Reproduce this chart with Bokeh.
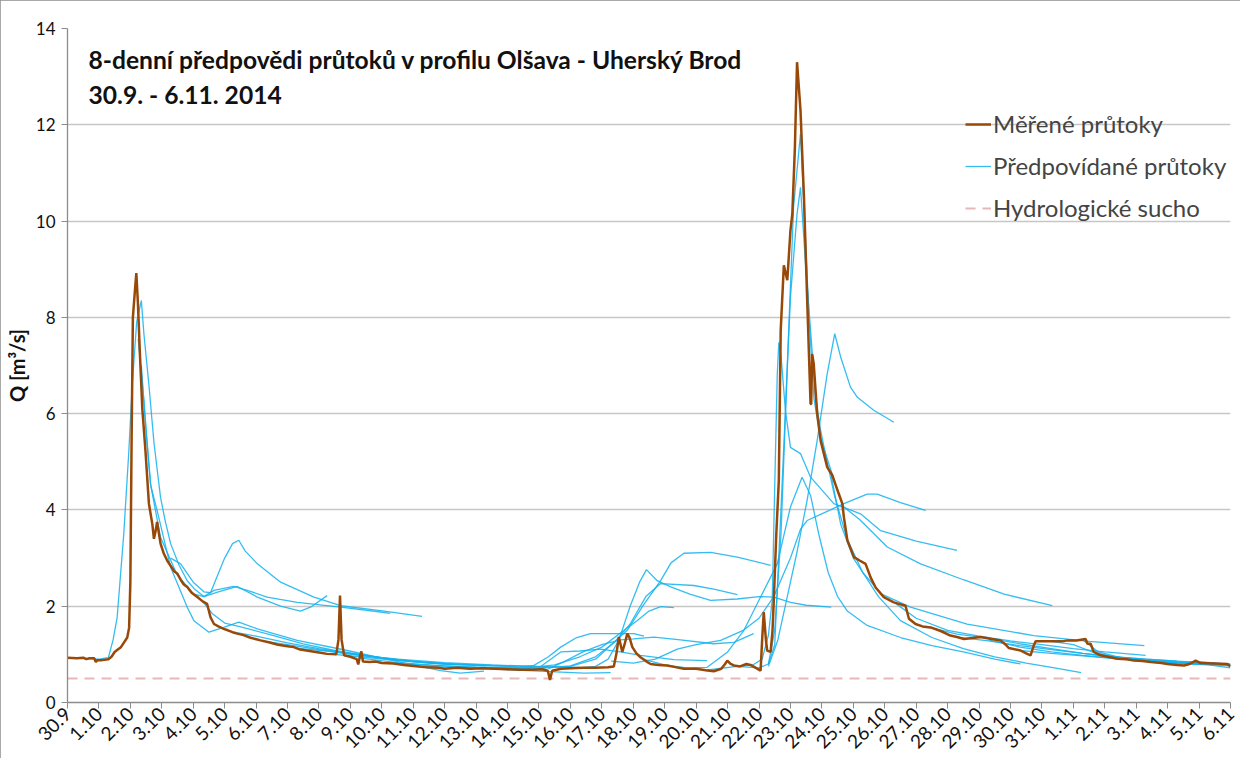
from bokeh.plotting import figure
from bokeh.models import Label, Legend, LegendItem, FixedTicker
from bokeh.embed import file_html
from bokeh.resources import INLINE

# ---------------- data ----------------
tick_labels = ["30.9", "1.10", "2.10", "3.10", "4.10", "5.10", "6.10", "7.10", "8.10", "9.10",
               "10.10", "11.10", "12.10", "13.10", "14.10", "15.10", "16.10", "17.10", "18.10",
               "19.10", "20.10", "21.10", "22.10", "23.10", "24.10", "25.10", "26.10", "27.10",
               "28.10", "29.10", "30.10", "31.10", "1.11", "2.11", "3.11", "4.11", "5.11", "6.11"]

# measured discharge (days since 30.9 00:00, m3/s)
meas_day = [0.00, 0.30, 0.50, 0.60, 0.70, 0.85, 0.90, 0.95, 1.10, 1.30, 1.40, 1.50, 1.60, 1.70, 1.80,
            1.90, 1.96, 2.00, 2.04, 2.08, 2.15, 2.19, 2.24, 2.30, 2.38, 2.48, 2.59, 2.70, 2.75, 2.80,
            2.85, 2.96, 3.06, 3.17, 3.30, 3.40, 3.49, 3.60, 3.70, 3.81, 3.95, 4.13, 4.30, 4.44, 4.55,
            4.66, 4.80, 4.97, 5.10, 5.25, 5.40, 5.60, 5.80, 6.14, 6.40, 6.70, 7.00, 7.20, 7.40, 7.60,
            7.80, 8.00, 8.26, 8.55, 8.62, 8.67, 8.72, 8.80, 9.00, 9.20, 9.25, 9.30, 9.35, 9.40, 9.60,
            9.80, 10.00, 10.37, 10.70, 11.00, 11.44, 11.80, 12.00, 12.40, 12.80, 13.20, 13.60, 14.00,
            14.40, 14.80, 15.10, 15.28, 15.35, 15.42, 15.70, 16.00, 16.40, 16.80, 17.20, 17.38, 17.46,
            17.54, 17.65, 17.72, 17.81, 17.88, 17.97, 18.10, 18.23, 18.40, 18.55, 18.80, 19.08, 19.30,
            19.61, 20.00, 20.30, 20.56, 20.80, 20.92, 20.99, 21.10, 21.20, 21.40, 21.60, 21.73, 21.90,
            22.05, 22.10, 22.15, 22.22, 22.26, 22.37, 22.43, 22.47, 22.55, 22.63, 22.69, 22.79, 22.90,
            23.00, 23.06, 23.14, 23.21, 23.32, 23.43, 23.53, 23.64, 23.66, 23.69, 23.74, 23.85, 23.96,
            24.17, 24.33, 24.54, 24.65, 24.70, 24.81, 25.02, 25.20, 25.39, 25.55, 25.71, 25.97, 26.29,
            26.66, 26.77, 26.98, 27.20, 27.46, 27.80, 28.09, 28.30, 28.52, 28.80, 29.05, 29.40, 29.68,
            29.85, 29.95, 30.32, 30.50, 30.64, 30.75, 30.80, 31.20, 31.65, 31.81, 32.10, 32.39, 32.45,
            32.55, 32.65, 32.87, 33.10, 33.40, 33.70, 33.93, 34.20, 34.46, 34.80, 34.99, 35.30, 35.52,
            35.70, 35.89, 36.05, 36.50, 36.90, 37.00]
meas_q = [0.93, 0.92, 0.93, 0.90, 0.92, 0.92, 0.84, 0.88, 0.88, 0.90, 0.95, 1.05, 1.10, 1.15, 1.25,
          1.35, 1.55, 2.50, 5.50, 8.00, 8.60, 8.92, 8.30, 7.30, 6.10, 5.23, 4.13, 3.70, 3.40, 3.55,
          3.75, 3.30, 3.10, 2.95, 2.82, 2.72, 2.68, 2.55, 2.45, 2.40, 2.28, 2.19, 2.10, 2.05, 1.77,
          1.63, 1.58, 1.53, 1.50, 1.46, 1.43, 1.40, 1.35, 1.29, 1.25, 1.20, 1.17, 1.15, 1.10, 1.08,
          1.06, 1.04, 1.01, 1.00, 1.30, 2.22, 1.30, 0.98, 0.95, 0.90, 0.79, 0.95, 1.06, 0.85, 0.84,
          0.85, 0.82, 0.81, 0.78, 0.76, 0.73, 0.72, 0.70, 0.72, 0.70, 0.71, 0.70, 0.69,
          0.68, 0.68, 0.69, 0.66, 0.47, 0.66, 0.70, 0.71, 0.72, 0.72, 0.73, 0.75, 1.00,
          1.36, 1.05, 1.20, 1.43, 1.35, 1.15, 1.02, 0.94, 0.86, 0.80, 0.78, 0.77, 0.74,
          0.70, 0.70, 0.67, 0.65, 0.70, 0.80, 0.87, 0.80, 0.77, 0.75, 0.80, 0.78, 0.72,
          0.66, 1.30, 1.88, 1.30, 1.08, 1.05, 1.50, 2.12, 3.50, 4.61, 7.73, 9.08, 8.77,
          9.80, 10.15, 11.50, 13.30, 12.30, 10.50, 8.42, 6.20, 6.20, 7.24, 7.04, 6.00, 5.44,
          4.89, 4.72, 4.33, 4.13, 3.85, 3.37, 3.02, 2.95, 2.88, 2.60, 2.39, 2.19, 2.08,
          2.01, 1.74, 1.63, 1.58, 1.56, 1.48, 1.39, 1.36, 1.32, 1.34, 1.36, 1.32, 1.29,
          1.20, 1.13, 1.08, 1.02, 0.98, 1.20, 1.27, 1.27, 1.27, 1.29, 1.29, 1.32, 1.22,
          1.22, 1.05, 0.98, 0.95, 0.91, 0.90, 0.87, 0.86, 0.84, 0.82, 0.80, 0.78, 0.77,
          0.80, 0.87, 0.82, 0.81, 0.80, 0.75]

# forecasts (8-day forecasts issued on successive days)
fc_days = [
    [0.3, 1.0, 1.3, 1.45, 1.58, 1.79, 1.95, 2.06, 2.2, 2.35, 2.43, 2.59, 2.75, 2.96, 3.1, 3.28, 3.55, 3.81, 4.05, 4.34, 4.8, 5.4, 6.04, 6.78, 7.41, 7.73, 8.26],
    [2.25, 2.43, 2.64, 2.96, 3.49, 4.02, 4.34, 4.66, 5.29, 5.72, 6.35, 7.31, 8.69, 9.96, 10.27],
    [3.28, 3.6, 4.0, 4.34, 4.55, 4.75, 5.0, 5.25, 5.45, 5.65, 6.04, 6.78, 7.84, 8.69, 9.96, 11.28],
    [2.35, 2.5, 2.65, 2.85, 3.28, 3.81, 4.02, 4.5, 4.97, 5.45, 6.04, 7.31, 8.9, 10.0, 11.0, 11.87, 12.5, 13.25],
    [4.3, 4.6, 5.0, 5.45, 6.5, 7.5, 8.5, 9.5, 10.5, 11.5, 12.3],
    [5.3, 6.0, 7.0, 8.0, 9.0, 10.0, 11.0, 12.0, 13.3],
    [6.3, 7.0, 8.0, 9.0, 10.0, 11.0, 12.5, 14.3],
    [7.3, 8.3, 9.3, 10.5, 12.0, 13.5, 15.3],
    [8.3, 9.3, 10.5, 12.0, 14.0, 16.3],
    [9.3, 10.5, 12.0, 13.5, 15.0, 16.43, 17.28],
    [10.3, 11.5, 13.0, 14.2, 14.84, 15.3, 15.69, 16.2, 16.64, 18.02, 18.34],
    [11.3, 13.0, 14.5, 15.5, 16.3, 17.0, 17.6, 18.12, 18.5, 18.87, 19.29],
    [12.3, 14.0, 15.0, 15.69, 16.3, 16.96, 17.6, 18.23, 19.29, 20.35],
    [13.3, 15.0, 16.0, 16.8, 17.4, 17.9, 18.4, 18.87, 19.93, 20.6, 21.31],
    [14.3, 15.0, 16.0, 16.8, 17.3, 17.81, 18.3, 18.87, 19.2, 19.61, 20.46, 21.31, 22.37],
    [15.3, 15.8, 16.4, 17.0, 17.6, 18.02, 18.66, 19.5, 20.56, 21.2, 21.83],
    [16.3, 16.8, 17.2, 17.54, 17.9, 18.2, 18.42, 18.76, 19.19, 19.8, 20.46, 21.3, 22.0, 22.47, 23.0, 23.5, 24.3],
    [17.3, 18.0, 18.7, 19.4, 20.0, 20.78, 21.5, 22.0, 22.47, 23.0, 23.32, 23.53, 24.1, 24.7, 25.44, 25.76, 26.5, 27.3],
    [18.3, 19.0, 19.7, 20.35, 21.0, 21.52, 22.05, 22.58, 23.0, 23.37, 23.64, 23.9, 24.2, 24.5, 24.81, 25.44, 26.5, 27.5, 28.5, 29.5, 30.32],
    [20.3, 21.3, 21.8, 22.1, 22.3, 22.42, 22.5, 22.58, 22.63, 22.7, 22.84, 23.0, 23.32, 23.64, 24.38, 25.23, 25.87, 27.0, 28.3],
    [21.3, 22.0, 22.3, 22.5, 22.7, 22.9, 23.1, 23.32, 23.45, 23.6, 23.75, 23.96, 24.2, 24.5, 24.7, 25.2, 26.08, 27.14, 28.5, 29.8, 31.33],
    [22.3, 22.5, 22.74, 23.0, 23.21, 23.32, 23.48, 23.64, 23.8, 23.96, 24.1, 24.4, 24.8, 25.3, 25.9, 26.82, 28.62, 30.74, 32.5, 34.26],
    [22.3, 22.6, 22.9, 23.2, 23.53, 23.85, 24.17, 24.41, 24.6, 24.91, 25.13, 25.65, 26.29],
    [24.3, 24.6, 25.0, 25.3, 25.8, 26.5, 27.5, 28.5, 29.5, 30.5, 31.4, 32.25],
    [26.3, 27.0, 28.0, 29.0, 30.0, 31.0, 32.0, 33.0, 34.3],
    [27.3, 28.3, 29.3, 30.3, 31.3, 32.3, 33.3, 34.3, 35.3],
    [28.3, 29.3, 30.3, 31.3, 32.3, 33.3, 34.3, 35.3, 36.3],
    [29.3, 30.3, 31.3, 32.3, 33.3, 34.3, 35.3, 37.0],
    [30.3, 31.3, 32.3, 33.3, 34.3, 35.3, 37.0],
    [31.3, 32.0, 32.6, 33.3, 34.3, 35.5, 37.0],
    [32.3, 32.8, 33.5, 34.5, 35.5, 37.0],
    [33.3, 34.3, 35.3, 36.3, 37.0],
    [34.3, 35.3, 35.9, 36.5, 37.0],
]
fc_q = [
    [0.92, 0.90, 0.93, 1.30, 1.77, 3.50, 5.20, 6.60, 7.90, 8.35, 7.66, 6.60, 5.40, 4.26, 3.80, 3.30, 2.85, 2.53, 2.35, 2.20, 2.30, 2.41, 2.19, 2.00, 1.90, 1.98, 2.22],
    [7.55, 6.27, 4.54, 3.43, 2.65, 2.25, 2.20, 2.33, 2.41, 2.33, 2.19, 2.08, 1.98, 1.88, 1.85],
    [3.00, 2.88, 2.50, 2.30, 2.28, 2.60, 3.00, 3.30, 3.37, 3.15, 2.88, 2.50, 2.19, 2.01, 1.91, 1.79],
    [7.00, 5.60, 4.50, 3.99, 2.81, 1.98, 1.70, 1.46, 1.56, 1.67, 1.53, 1.29, 1.08, 0.92, 0.78, 0.66, 0.61, 0.65],
    [2.10, 1.85, 1.65, 1.58, 1.40, 1.22, 1.08, 0.98, 0.88, 0.82, 0.79],
    [1.46, 1.38, 1.24, 1.12, 1.02, 0.93, 0.86, 0.80, 0.76],
    [1.27, 1.20, 1.10, 1.01, 0.92, 0.85, 0.79, 0.74],
    [1.13, 1.06, 0.98, 0.90, 0.83, 0.78, 0.74],
    [1.01, 0.95, 0.87, 0.80, 0.76, 0.73],
    [0.92, 0.83, 0.76, 0.70, 0.65, 0.61, 0.62],
    [0.82, 0.77, 0.74, 0.72, 0.77, 0.95, 1.15, 1.35, 1.43, 1.43, 1.38],
    [0.75, 0.72, 0.71, 0.78, 0.95, 1.15, 1.45, 1.70, 1.90, 1.99, 1.97],
    [0.73, 0.71, 0.72, 1.05, 1.07, 1.11, 1.05, 0.98, 0.89, 0.87],
    [0.71, 0.71, 0.76, 0.95, 1.25, 1.63, 2.20, 2.47, 2.43, 2.35, 2.24],
    [0.72, 0.72, 0.75, 0.90, 1.20, 1.50, 2.00, 2.53, 2.90, 3.10, 3.12, 3.02, 2.85],
    [0.70, 0.85, 1.05, 1.20, 1.30, 1.32, 1.36, 1.30, 1.22, 1.25, 1.43],
    [0.72, 0.75, 0.90, 1.29, 2.00, 2.50, 2.76, 2.53, 2.40, 2.25, 2.12, 2.15, 2.20, 2.19, 2.08, 2.02, 1.98],
    [0.86, 0.82, 0.90, 1.11, 1.20, 1.29, 1.50, 1.75, 2.20, 3.00, 3.60, 3.78, 3.95, 4.13, 4.33, 4.33, 4.15, 3.99],
    [0.90, 0.78, 0.72, 0.73, 1.05, 1.50, 2.19, 2.88, 4.06, 4.68, 4.30, 3.50, 2.70, 2.20, 1.90, 1.60, 1.35, 1.18, 1.05, 0.90, 0.80],
    [0.67, 0.75, 0.78, 0.90, 1.40, 2.12, 4.50, 6.80, 7.48, 7.20, 6.07, 5.30, 5.17, 4.68, 4.13, 3.92, 3.57, 3.35, 3.16],
    [0.75, 0.72, 0.80, 1.50, 3.50, 7.00, 10.30, 11.82, 10.00, 7.90, 6.30, 5.50, 5.00, 4.40, 4.06, 3.80, 3.23, 2.88, 2.55, 2.25, 2.01],
    [0.80, 1.20, 4.61, 8.42, 10.15, 10.70, 9.11, 7.73, 6.34, 5.65, 5.20, 4.30, 3.40, 2.70, 2.25, 1.98, 1.63, 1.39, 1.27, 1.18],
    [0.75, 1.30, 2.20, 3.10, 4.20, 5.44, 6.83, 7.66, 7.17, 6.55, 6.34, 6.07, 5.82],
    [4.70, 3.70, 3.00, 2.70, 2.20, 1.70, 1.35, 1.12, 0.95, 0.82, 0.72, 0.62],
    [2.08, 1.75, 1.50, 1.38, 1.28, 1.20, 1.12, 1.05, 0.98],
    [1.58, 1.42, 1.33, 1.22, 1.12, 1.02, 0.94, 0.90, 0.86],
    [1.36, 1.28, 1.18, 1.10, 1.02, 0.95, 0.90, 0.86, 0.82],
    [1.30, 1.15, 1.05, 0.98, 0.92, 0.87, 0.83, 0.78],
    [1.08, 1.02, 0.97, 0.91, 0.86, 0.82, 0.77],
    [1.27, 1.20, 1.05, 0.95, 0.88, 0.84, 0.80],
    [1.30, 1.05, 0.93, 0.86, 0.82, 0.76],
    [0.92, 0.86, 0.81, 0.78, 0.72],
    [0.86, 0.82, 0.85, 0.82, 0.78],
]

drought_day = [0, 37]
drought_q = [0.5, 0.5]

title_lines = ["8-denní předpovědi průtoků v profilu Olšava - Uherský Brod", "30.9. - 6.11. 2014"]

# ---------------- figure ----------------
FONT = "Lato"
p = figure(width=1240, height=758, x_range=(0, 37), y_range=(0, 14),
           output_backend="svg", toolbar_location=None,
           min_border_left=67, min_border_right=10, min_border_top=28, min_border_bottom=56)
p.styles = {"outline": "1px solid #8c8c8c", "outline-offset": "-1px"}
p.outline_line_color = None
p.background_fill_color = "white"
p.border_fill_color = "white"

p.xgrid.grid_line_color = None
p.ygrid.grid_line_color = "#c6c6c6"
p.ygrid.grid_line_width = 1.3
p.yaxis.ticker = FixedTicker(ticks=list(range(0, 15, 2)))
p.xaxis.ticker = FixedTicker(ticks=list(range(len(tick_labels))))
p.xaxis.major_label_overrides = {i: t for i, t in enumerate(tick_labels)}
p.xaxis.major_label_orientation = 0.785398

for ax in (p.xaxis, p.yaxis):
    ax.axis_line_color = "#8c8c8c"
    ax.axis_line_width = 1.3
    ax.major_tick_line_color = "#8c8c8c"
    ax.major_tick_out = 6
    ax.major_tick_in = 0
    ax.minor_tick_line_color = None
    ax.major_label_text_font = FONT
    ax.major_label_text_color = "#111111"
p.xaxis.major_label_text_font_size = "19px"
p.xaxis.major_label_standoff = 2
p.yaxis.major_label_text_font_size = "17px"
p.yaxis.major_label_standoff = 6
p.yaxis.axis_label = "Q [m³/s]"
p.yaxis.axis_label_text_font = FONT
p.yaxis.axis_label_text_font_size = "20px"
p.yaxis.axis_label_text_font_style = "bold"
p.yaxis.axis_label_text_color = "#111111"
p.yaxis.axis_label_standoff = 4

r_dry = p.line(drought_day, drought_q, line_color="#e6b9b8", line_width=2, line_dash="10 7")
r_fc = p.multi_line(fc_days, fc_q, line_color="#12b2ee", line_width=1.3, line_alpha=0.85)
r_meas = p.line(meas_day, meas_q, line_color="#984807", line_width=2.5)

legend = Legend(items=[LegendItem(label="Měřené průtoky", renderers=[r_meas]),
                       LegendItem(label="Předpovídané průtoky", renderers=[r_fc]),
                       LegendItem(label="Hydrologické sucho", renderers=[r_dry])],
                location=(898, 480), padding=0, margin=0, spacing=13,
                glyph_width=26, glyph_height=24, label_height=24, label_standoff=2,
                label_text_font=FONT, label_text_font_size="24px",
                background_fill_alpha=0, border_line_color=None)
p.add_layout(legend)

p.add_layout(Label(x=0.67, y=13.66, text=title_lines[0], text_font=FONT, text_font_size="24.6px",
                   text_font_style="bold", text_baseline="top", text_color="#111111"))
p.add_layout(Label(x=0.67, y=12.93, text=title_lines[1], text_font=FONT, text_font_size="24.6px",
                   text_font_style="bold", text_baseline="top", text_color="#111111"))

open("out.html", "w").write(file_html(p, INLINE))
